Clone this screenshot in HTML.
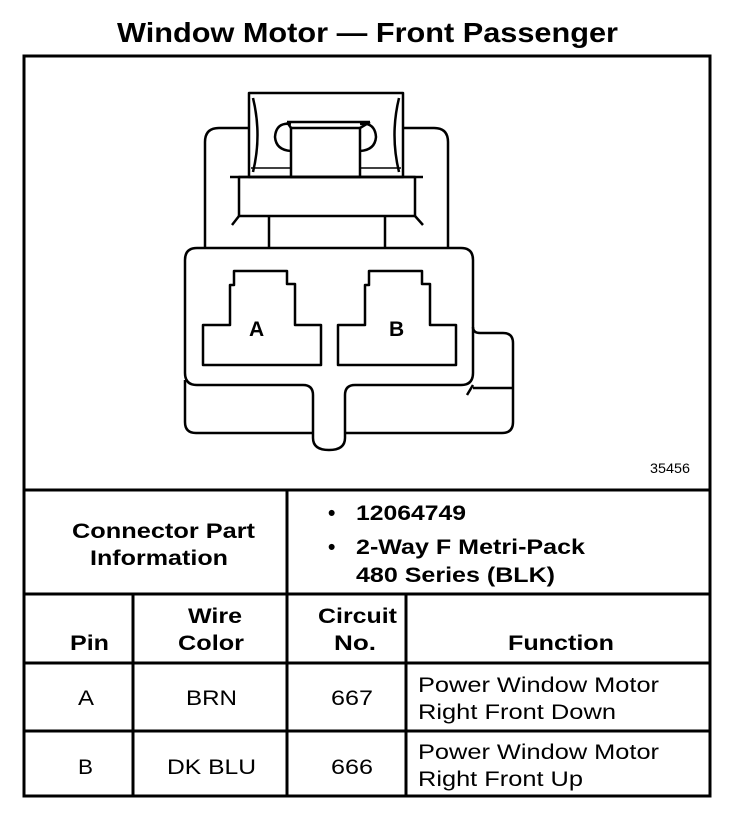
<!DOCTYPE html>
<html><head><meta charset="utf-8"><style>
html,body{margin:0;padding:0;background:#fff;}
svg{display:block;}
text{font-family:"Liberation Sans",Arial,sans-serif;fill:#000;}
.b{font-weight:bold;}
</style></head><body>
<svg width="752" height="826" viewBox="0 0 752 826" xmlns="http://www.w3.org/2000/svg">
<text x="117" y="42" class="b" font-size="28" textLength="501" lengthAdjust="spacingAndGlyphs">Window Motor — Front Passenger</text>
<g fill="none" stroke="#000" stroke-width="3">
<rect x="24" y="56" width="686" height="740"/>
<line x1="24" y1="490" x2="710" y2="490"/>
<line x1="24" y1="594" x2="710" y2="594"/>
<line x1="24" y1="663" x2="710" y2="663"/>
<line x1="24" y1="731" x2="710" y2="731"/>
<line x1="287" y1="490" x2="287" y2="796"/>
<line x1="133" y1="594" x2="133" y2="796"/>
<line x1="406" y1="594" x2="406" y2="796"/>
</g>
<g fill="none" stroke="#000" stroke-width="2.5" stroke-linejoin="round">
<path d="M205 247 V142 Q205 128 219 128 H249 M403 128 H434 Q448 128 448 142 V247"/>
<rect x="249" y="93" width="154" height="84" fill="#fff"/>
<path d="M253 98 Q262 135 253 172 M399 98 Q390 135 399 172"/>
<rect x="291" y="128" width="69" height="49"/>
<path d="M287 122 H370 M287 122 L291 128 M370 122 L360 128"/>
<path d="M291 124 Q276 122 275 137 Q276 150 291 151 M360 124 Q375 122 376 137 Q375 150 360 151"/>
<path d="M251 168 H291 M360 168 H401" stroke-width="1.5"/>
<line x1="230" y1="177" x2="423" y2="177"/>
<rect x="239" y="177" width="176" height="39"/>
<path d="M239 216 L232 225 M415 216 L423 225"/>
<line x1="269" y1="216" x2="269" y2="248"/>
<line x1="385" y1="216" x2="385" y2="248"/>
<path d="M185 260 Q185 248 197 248 H461 Q473 248 473 260 V373 Q473 385 461 385 H355 Q345 385 345 395 V438 Q345 450 329 450 Q313 450 313 438 V395 Q313 385 303 385 H197 Q185 385 185 373 Z"/>
<path d="M185 380 V422 Q185 433 196 433 H313 M345 433 H502 Q513 433 513 422 V343 Q513 333 503 333 H480 Q473 333 473 327"/>
<path d="M473 388 H513 M473 385 L467 395"/>
<path d="M203 325 H230 V285 H234 V271 H287 V284 H295 V325 H321 V365 H203 Z"/>
<path d="M338 325 H365 V285 H369 V271 H422 V284 H430 V325 H456 V365 H338 Z"/>
</g>
<text x="249" y="336" class="b" font-size="21">A</text>
<text x="389" y="336" class="b" font-size="21">B</text>
<text x="650" y="473" font-size="14" textLength="40" lengthAdjust="spacingAndGlyphs">35456</text>
<g class="b" font-size="21">
<text x="72" y="538" textLength="183" lengthAdjust="spacingAndGlyphs">Connector Part</text>
<text x="90" y="565" textLength="138" lengthAdjust="spacingAndGlyphs">Information</text>
<text x="328" y="520">•</text>
<text x="356" y="520" textLength="110" lengthAdjust="spacingAndGlyphs">12064749</text>
<text x="328" y="554">•</text>
<text x="356" y="554" textLength="229" lengthAdjust="spacingAndGlyphs">2-Way F Metri-Pack</text>
<text x="356" y="582" textLength="199" lengthAdjust="spacingAndGlyphs">480 Series (BLK)</text>
<text x="70" y="650" textLength="39" lengthAdjust="spacingAndGlyphs">Pin</text>
<text x="188" y="623" textLength="54" lengthAdjust="spacingAndGlyphs">Wire</text>
<text x="178" y="650" textLength="66" lengthAdjust="spacingAndGlyphs">Color</text>
<text x="318" y="623" textLength="79" lengthAdjust="spacingAndGlyphs">Circuit</text>
<text x="334" y="650" textLength="42" lengthAdjust="spacingAndGlyphs">No.</text>
<text x="508" y="650" textLength="106" lengthAdjust="spacingAndGlyphs">Function</text>
</g>
<g font-size="21">
<text x="78" y="705" textLength="16" lengthAdjust="spacingAndGlyphs">A</text>
<text x="186" y="705" textLength="51" lengthAdjust="spacingAndGlyphs">BRN</text>
<text x="331" y="705" textLength="42" lengthAdjust="spacingAndGlyphs">667</text>
<text x="418" y="692" textLength="241" lengthAdjust="spacingAndGlyphs">Power Window Motor</text>
<text x="418" y="719" textLength="198" lengthAdjust="spacingAndGlyphs">Right Front Down</text>
<text x="78" y="774" textLength="15" lengthAdjust="spacingAndGlyphs">B</text>
<text x="167" y="774" textLength="89" lengthAdjust="spacingAndGlyphs">DK BLU</text>
<text x="331" y="774" textLength="42" lengthAdjust="spacingAndGlyphs">666</text>
<text x="418" y="759" textLength="241" lengthAdjust="spacingAndGlyphs">Power Window Motor</text>
<text x="418" y="786" textLength="165" lengthAdjust="spacingAndGlyphs">Right Front Up</text>
</g>
</svg>
</body></html>
